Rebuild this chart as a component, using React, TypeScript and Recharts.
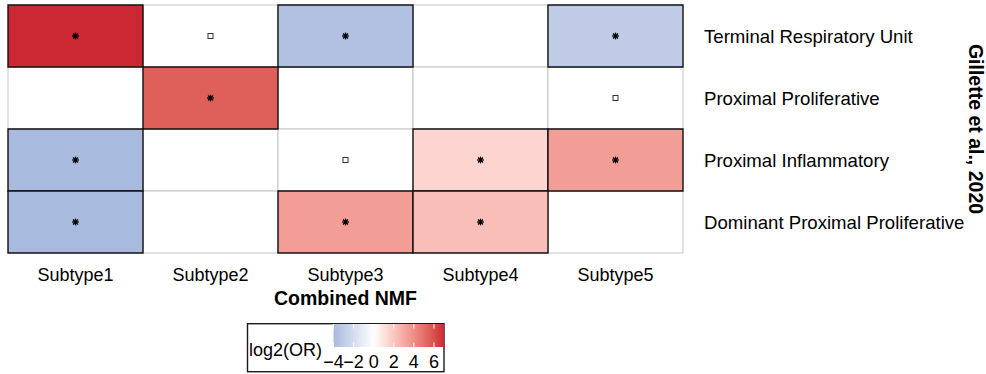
import React from 'react';
import { ScatterChart, Scatter, XAxis, YAxis, ReferenceArea, Label } from 'recharts';

const subtypes = ['Subtype1', 'Subtype2', 'Subtype3', 'Subtype4', 'Subtype5'];
const programs = [
  'Terminal Respiratory Unit',
  'Proximal Proliferative',
  'Proximal Inflammatory',
  'Dominant Proximal Proliferative',
];

// log2(OR) of each program across the NMF subtypes (null = no enrichment)
const terminalRespiratoryUnit = [7.0, null, -3.6, null, -3.0];
const proximalProliferative = [null, 5.5, null, null, null];
const proximalInflammatory = [-4.0, null, null, 1.5, 3.4];
const dominantProximalProliferative = [-4.0, null, 3.4, 2.3, null];

// '*' = significant, 'o' = tested, not significant, '' = nothing drawn
const terminalRespiratoryUnitMarks = ['*', 'o', '*', '', '*'];
const proximalProliferativeMarks = ['', '*', '', '', 'o'];
const proximalInflammatoryMarks = ['*', '', 'o', '*', '*'];
const dominantProximalProliferativeMarks = ['*', '', '*', '*', ''];

const legendTicks = [-4, -2, 0, 2, 4, 6];
const legendLimits = [-4.0, 7.0];

const valueRows = [terminalRespiratoryUnit, proximalProliferative, proximalInflammatory, dominantProximalProliferative];
const markRows = [
  terminalRespiratoryUnitMarks,
  proximalProliferativeMarks,
  proximalInflammatoryMarks,
  dominantProximalProliferativeMarks,
];

// --- colour scale: white midpoint, interpolated in Lab like scale_fill_gradient2
type Tri = [number, number, number];
const LOW: Tri = [169, 186, 223];
const HIGH: Tri = [204, 40, 52];
const WHITE: Tri = [255, 255, 255];

const toLin = (c: number) => {
  const s = c / 255;
  return s <= 0.04045 ? s / 12.92 : Math.pow((s + 0.055) / 1.055, 2.4);
};
const fromLin = (v: number) => {
  const s = v <= 0.0031308 ? 12.92 * v : 1.055 * Math.pow(v, 1 / 2.4) - 0.055;
  return Math.round(Math.max(0, Math.min(1, s)) * 255);
};
const Xn = 0.95047, Yn = 1, Zn = 1.08883;
const f = (t: number) => (t > 216 / 24389 ? Math.cbrt(t) : ((24389 / 27) * t + 16) / 116);
const finv = (t: number) => (t * t * t > 216 / 24389 ? t * t * t : (116 * t - 16) / (24389 / 27));

function rgbToLab([r, g, b]: Tri): Tri {
  const R = toLin(r), G = toLin(g), B = toLin(b);
  const X = 0.4124 * R + 0.3576 * G + 0.1805 * B;
  const Y = 0.2126 * R + 0.7152 * G + 0.0722 * B;
  const Z = 0.0193 * R + 0.1192 * G + 0.9505 * B;
  const fx = f(X / Xn), fy = f(Y / Yn), fz = f(Z / Zn);
  return [116 * fy - 16, 500 * (fx - fy), 200 * (fy - fz)];
}

function labToCss([L, a, b]: Tri): string {
  const fy = (L + 16) / 116, fx = fy + a / 500, fz = fy - b / 200;
  const X = Xn * finv(fx), Y = Yn * finv(fy), Z = Zn * finv(fz);
  const R = 3.2406 * X - 1.5372 * Y - 0.4986 * Z;
  const G = -0.9689 * X + 1.8758 * Y + 0.0415 * Z;
  const B = 0.0557 * X - 0.204 * Y + 1.057 * Z;
  return `rgb(${fromLin(R)},${fromLin(G)},${fromLin(B)})`;
}

const labWhite = rgbToLab(WHITE);
const labLow = rgbToLab(LOW);
const labHigh = rgbToLab(HIGH);

function fillFor(v: number): string {
  const [end, t] = v >= 0 ? [labHigh, v / legendLimits[1]] : [labLow, v / legendLimits[0]];
  const k = Math.max(0, Math.min(1, t));
  return labToCss([
    labWhite[0] + (end[0] - labWhite[0]) * k,
    labWhite[1] + (end[1] - labWhite[1]) * k,
    labWhite[2] + (end[2] - labWhite[2]) * k,
  ]);
}

// --- cells and markers
type Cell = { col: number; row: number; value: number | null };
const cells: Cell[] = [];
valueRows.forEach((vals, row) => vals.forEach((value, col) => cells.push({ col, row, value })));
// empty cells first so the black outlines of filled cells sit on top
const emptyCells = cells.filter((c) => c.value === null);
const filledCells = cells.filter((c) => c.value !== null);

const starPoints: { x: number; y: number }[] = [];
const squarePoints: { x: number; y: number }[] = [];
markRows.forEach((marks, row) =>
  marks.forEach((m, col) => {
    if (m === '*') starPoints.push({ x: col + 0.5, y: row + 0.5 });
    if (m === 'o') squarePoints.push({ x: col + 0.5, y: row + 0.5 });
  }),
);

const Star = (props: any) => {
  const { cx, cy } = props;
  const r = 3.4;
  const d = r * 0.72;
  return (
    <g stroke="#000" strokeWidth={1.3}>
      <line x1={cx - r} y1={cy} x2={cx + r} y2={cy} />
      <line x1={cx} y1={cy - r} x2={cx} y2={cy + r} />
      <line x1={cx - d} y1={cy - d} x2={cx + d} y2={cy + d} />
      <line x1={cx - d} y1={cy + d} x2={cx + d} y2={cy - d} />
    </g>
  );
};

const OpenSquare = (props: any) => {
  const { cx, cy } = props;
  return <rect x={cx - 2.5} y={cy - 2.5} width={5} height={5} fill="#fff" stroke="#333" strokeWidth={1} />;
};

const FONT = '"Liberation Sans", Arial, Helvetica, sans-serif';

const SubtypeTick = (props: any) => {
  const { x, y, payload } = props;
  return (
    <text x={x} y={y + 27.5} textAnchor="middle" fontSize={18} fontFamily={FONT} fill="#000">
      {subtypes[Math.floor(payload.value)]}
    </text>
  );
};

const ProgramTick = (props: any) => {
  const { x, y, payload } = props;
  return (
    <text x={x + 21} y={y} dy="0.38em" textAnchor="start" fontSize={18.6} fontFamily={FONT} fill="#000">
      {programs[Math.floor(payload.value)]}
    </text>
  );
};

const Legend = () => {
  const barX = 333.5, barW = 110.5, barY = 324, barH = 23;
  const sx = (v: number) => barX + ((v - legendLimits[0]) / (legendLimits[1] - legendLimits[0])) * barW;
  const stops = Array.from({ length: 41 }, (_, i) => {
    const v = legendLimits[0] + ((legendLimits[1] - legendLimits[0]) * i) / 40;
    return <stop key={i} offset={`${(i / 40) * 100}%`} stopColor={fillFor(v)} />;
  });
  return (
    <svg width={986} height={374} style={{ position: 'absolute', left: 0, top: 0, pointerEvents: 'none' }}>
      <defs>
        <linearGradient id="orBar" x1="0" y1="0" x2="1" y2="0">
          {stops}
        </linearGradient>
      </defs>
      <rect x={247.5} y={323.7} width={196.5} height={48} fill="#fff" stroke="#1a1a1a" strokeWidth={1.4} />
      <rect x={barX} y={barY} width={barW} height={barH} fill="url(#orBar)" />
      {legendTicks.map((t) => (
        <g key={t} stroke="#fff" strokeWidth={1}>
          <line x1={sx(t)} y1={barY} x2={sx(t)} y2={barY + 4.5} />
          <line x1={sx(t)} y1={barY + barH - 4.5} x2={sx(t)} y2={barY + barH} />
        </g>
      ))}
      <text x={249} y={356} fontSize={18} fontFamily={FONT} fill="#000">
        log2(OR)
      </text>
      {legendTicks.map((t) => (
        <text key={t} x={sx(t)} y={367.5} textAnchor="middle" fontSize={18} fontFamily={FONT} fill="#000">
          {t < 0 ? `\u2212${-t}` : t}
        </text>
      ))}
    </svg>
  );
};

export default function App() {
  return (
    <div style={{ position: 'absolute', left: 0, top: 0, width: 986, height: 374, background: '#fff' }}>
      <ScatterChart width={986} height={374} margin={{ top: 5, right: 0, bottom: 0, left: 8 }}>
        <XAxis
          type="number"
          dataKey="x"
          domain={[0, 5]}
          ticks={[0.5, 1.5, 2.5, 3.5, 4.5]}
          interval={0}
          height={121}
          axisLine={false}
          tickLine={false}
          tickSize={0}
          tickMargin={0}
          tick={<SubtypeTick />}
        >
          <Label
            content={(p: any) => {
              const vb = p.viewBox;
              return (
                <text x={vb.x + vb.width / 2} y={vb.y + 52} textAnchor="middle" fontSize={19.5} fontWeight="bold" fontFamily={FONT} fill="#000">
                  Combined NMF
                </text>
              );
            }}
          />
        </XAxis>
        <YAxis
          type="number"
          dataKey="y"
          orientation="right"
          reversed
          domain={[0, 4]}
          ticks={[0.5, 1.5, 2.5, 3.5]}
          interval={0}
          width={303}
          axisLine={false}
          tickLine={false}
          tickSize={0}
          tickMargin={0}
          tick={<ProgramTick />}
        >
          <Label
            content={(p: any) => {
              const vb = p.viewBox;
              const cx = vb.x + vb.width - 17.5;
              const cy = vb.y + vb.height / 2;
              return (
                <text x={cx} y={cy} transform={`rotate(90 ${cx} ${cy})`} textAnchor="middle" fontSize={19.5} fontWeight="bold" fontFamily={FONT} fill="#000">
                  Gillette et al., 2020
                </text>
              );
            }}
          />
        </YAxis>
        {emptyCells.map((c) => (
          <ReferenceArea
            key={`e-${c.row}-${c.col}`}
            x1={c.col}
            x2={c.col + 1}
            y1={c.row}
            y2={c.row + 1}
            fill="#fff"
            fillOpacity={1}
            stroke="#c4c4c4"
            strokeWidth={1}
            ifOverflow="visible"
          />
        ))}
        {filledCells.map((c) => (
          <ReferenceArea
            key={`f-${c.row}-${c.col}`}
            x1={c.col}
            x2={c.col + 1}
            y1={c.row}
            y2={c.row + 1}
            fill={fillFor(c.value as number)}
            fillOpacity={1}
            stroke="#111"
            strokeWidth={1.4}
            ifOverflow="visible"
          />
        ))}
        <Scatter data={squarePoints} shape={<OpenSquare />} isAnimationActive={false} />
        <Scatter data={starPoints} shape={<Star />} isAnimationActive={false} />
      </ScatterChart>
      <Legend />
    </div>
  );
}
